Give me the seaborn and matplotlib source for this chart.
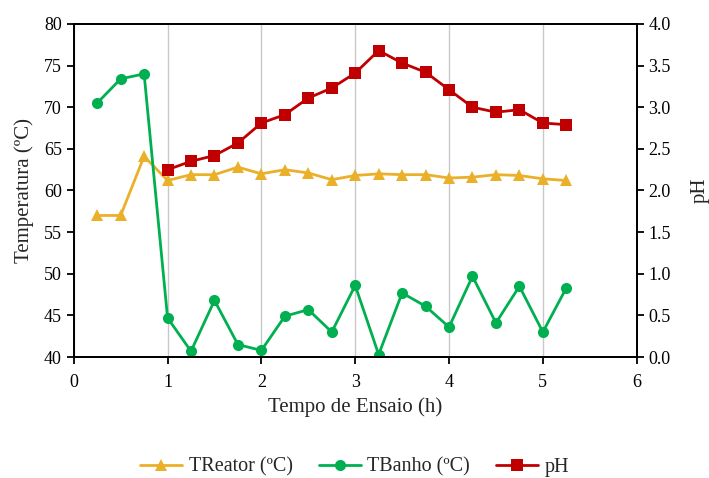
import seaborn as sns
import pandas as pd
import matplotlib.pyplot as plt
from matplotlib.ticker import FormatStrFormatter

tempo = [0.25, 0.5, 0.75, 1.0, 1.25, 1.5, 1.75, 2.0, 2.25, 2.5, 2.75,
         3.0, 3.25, 3.5, 3.75, 4.0, 4.25, 4.5, 4.75, 5.0, 5.25]
treator = [57.0, 57.0, 64.1, 61.2, 61.9, 61.9, 62.8, 62.0, 62.5, 62.1, 61.3,
           61.8, 62.0, 61.9, 61.9, 61.5, 61.6, 61.9, 61.8, 61.4, 61.2]
tbanho = [70.5, 73.4, 74.0, 44.7, 40.7, 46.8, 41.5, 40.8, 44.9, 45.7, 43.0,
          48.6, 40.3, 47.7, 46.1, 43.6, 49.7, 44.1, 48.5, 43.0, 48.3]
tempo_ph = [1.0, 1.25, 1.5, 1.75, 2.0, 2.25, 2.5, 2.75, 3.0, 3.25, 3.5,
            3.75, 4.0, 4.25, 4.5, 4.75, 5.0, 5.25]
ph = [2.25, 2.35, 2.42, 2.57, 2.81, 2.91, 3.11, 3.23, 3.41, 3.68, 3.53,
      3.42, 3.21, 3.00, 2.94, 2.97, 2.81, 2.79]

df = pd.DataFrame({"tempo": tempo, "treator": treator, "tbanho": tbanho})
df_ph = pd.DataFrame({"tempo": tempo_ph, "ph": ph})

sns.set_style("ticks")
plt.rcParams["font.family"] = ["Liberation Serif", "DejaVu Serif"]
plt.rcParams["font.size"] = 13

fig, ax = plt.subplots(figsize=(7.09, 4.78), dpi=100)
fig.subplots_adjust(left=0.104, right=0.898, top=0.950, bottom=0.253)

sns.lineplot(data=df, x="tempo", y="treator", ax=ax, color="#EBB02A", marker="^",
             markersize=8, markeredgewidth=0, linewidth=2, label="TReator (ºC)", legend=False)
sns.lineplot(data=df, x="tempo", y="tbanho", ax=ax, color="#00B050", marker="o",
             markersize=8, markeredgewidth=0, linewidth=2, label="TBanho (ºC)", legend=False)
ax2 = ax.twinx()
sns.lineplot(data=df_ph, x="tempo", y="ph", ax=ax2, color="#C00000", marker="s",
             markersize=8, markeredgewidth=0, linewidth=2, label="pH", legend=False)

ax.set_xlim(0, 6)
ax.set_ylim(40, 80)
ax2.set_ylim(0, 4)
ax.set_xticks(range(0, 7))
ax.set_yticks(range(40, 81, 5))
ax2.set_yticks([i * 0.5 for i in range(9)])
ax2.yaxis.set_major_formatter(FormatStrFormatter("%.1f"))
ax.xaxis.grid(True, color="#c8c8c8", linewidth=1)
ax.set_axisbelow(True)

ax.set_xlabel("Tempo de Ensaio (h)", fontsize=15, labelpad=5)
ax.set_ylabel("Temperatura (ºC)", fontsize=15, labelpad=7)
ax2.set_ylabel("pH", fontsize=15, labelpad=14)

for a in (ax, ax2):
    for s in a.spines.values():
        s.set_linewidth(1.3)
        s.set_color("black")
    a.tick_params(direction="out", width=1.3, length=5, labelsize=13, colors="black")
ax.tick_params(axis="x", pad=7)

h1, l1 = ax.get_legend_handles_labels()
h2, l2 = ax2.get_legend_handles_labels()
fig.legend(h1 + h2, l1 + l2, loc="lower center", ncol=3, frameon=False,
           bbox_to_anchor=(0.5, -0.035), fontsize=14.5, handlelength=2.1,
           handletextpad=0.3, columnspacing=1.3)

plt.savefig("out.png", dpi=100)
